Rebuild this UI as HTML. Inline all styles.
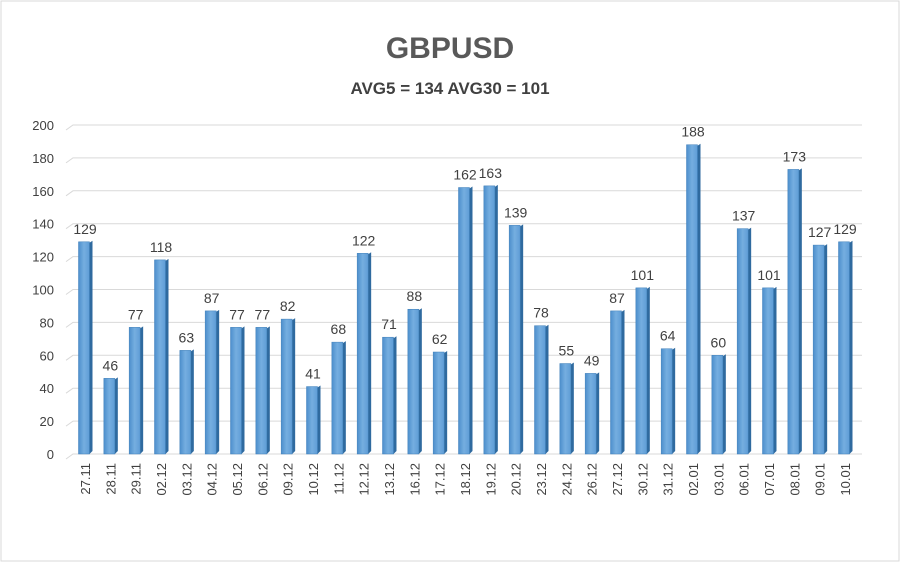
<!DOCTYPE html>
<html><head><meta charset="utf-8"><style>
body{margin:0;background:#fff;}
#wrap{position:relative;width:900px;height:562px;overflow:hidden;}
svg{position:absolute;left:0;top:0;font-family:"Liberation Sans",sans-serif;}
</style></head><body>
<div id="wrap">
<svg id="chart" width="900" height="562">
<defs>
<linearGradient id="g" x1="0" x2="1" y1="0" y2="0">
<stop offset="0" stop-color="#4d8fcc"/><stop offset="0.5" stop-color="#75aee0"/><stop offset="1" stop-color="#5f9dd6"/>
</linearGradient>
</defs>
<rect x="1" y="1" width="898" height="560" fill="#fff" stroke="#d9d9d9"/>
<text x="450" y="58" text-anchor="middle" font-size="30" font-weight="bold" fill="#595959">GBPUSD</text>
<text x="450" y="94" text-anchor="middle" font-size="17" font-weight="bold" fill="#404040">AVG5 = 134 AVG30 = 101</text>
</svg>
</div>
<script>
const categories=["27.11","28.11","29.11","02.12","03.12","04.12","05.12","06.12","09.12","10.12","11.12","12.12","13.12","16.12","17.12","18.12","19.12","20.12","23.12","24.12","26.12","27.12","30.12","31.12","02.01","03.01","06.01","07.01","08.01","09.01","10.01"];
const values=[129,46,77,118,63,87,77,77,82,41,68,122,71,88,62,162,163,139,78,55,49,87,101,64,188,60,137,101,173,127,129];
const yTicks=[0,20,40,60,80,100,120,140,160,180,200];
const svg=document.getElementById('chart');
const NS='http://www.w3.org/2000/svg';
const y0=454,yTop=125,maxV=200;
const yScale=v=>y0-(v/maxV)*(y0-yTop);
const x0=85,x1=845;
const xScale=i=>x0+i*(x1-x0)/(categories.length-1);
function mk(tag,attrs){const e=document.createElementNS(NS,tag);for(const k in attrs)e.setAttribute(k,attrs[k]);svg.appendChild(e);return e;}
yTicks.forEach(t=>{
  const y=yScale(t);
  const l=mk('path',{d:`M66 ${y+5} L73 ${y} L862 ${y}`,stroke:'#d9d9d9','stroke-width':1,fill:'none'});
  
  
  const tx=mk('text',{x:54,y:y+5,'text-anchor':'end','font-size':13,fill:'#404040'});
  tx.textContent=t;
  
  
});
values.forEach((v,i)=>{
  const cx=xScale(i),y=yScale(v),w=11;
  const side=mk('path',{d:`M${cx+w/2-1} ${y+1} L${cx+w/2+2} ${y-1} L${cx+w/2+2} ${y0-3} L${cx+w/2-1} ${y0}Z`,fill:'#2f6a9f'});
  
  
  const b=mk('rect',{x:cx-w/2-1,y:y,width:w,height:y0-y,fill:'url(#g)',stroke:'#3f7fb9','stroke-width':0.5});
  
  
  const lb=mk('text',{x:cx,y:y-8,'text-anchor':'middle','font-size':14,fill:'#404040'});
  lb.textContent=v;
  
  
  const xl=mk('text',{x:0,y:0,'text-anchor':'end','font-size':13,fill:'#404040',transform:`translate(${cx+5},${y0+9}) rotate(-90)`});
  xl.textContent=categories[i];
  
  
});
</script>
</body></html>
